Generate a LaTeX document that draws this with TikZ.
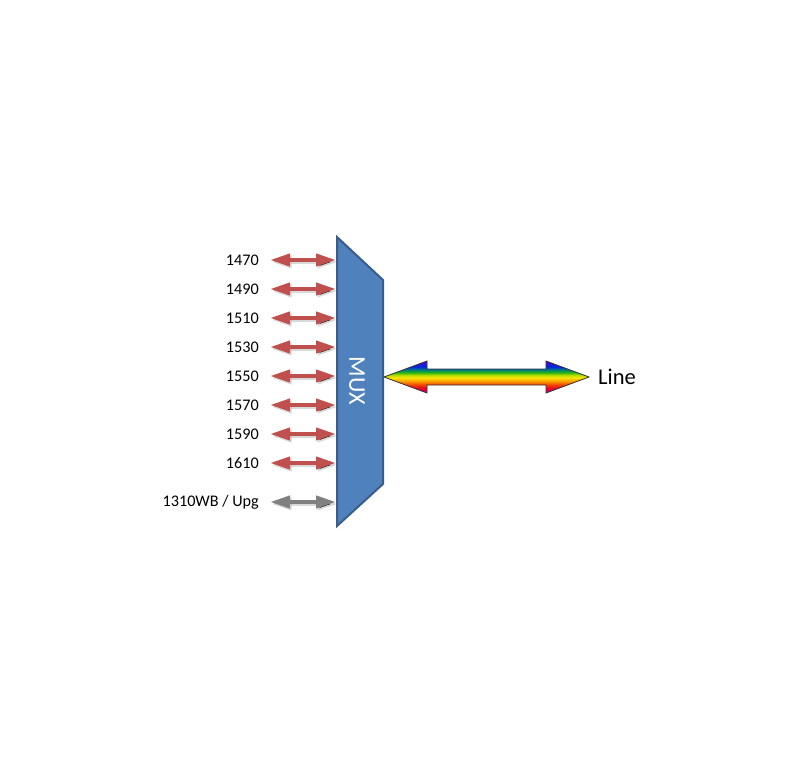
\documentclass[tikz,border=0pt]{standalone}
\usepackage{fontspec}
\setmainfont{Carlito}
\usetikzlibrary{arrows.meta,calc}
\definecolor{arrowred}{HTML}{C0504D}
\definecolor{arrowgrey}{HTML}{808080}
\definecolor{muxfill}{HTML}{4F81BD}
\definecolor{muxline}{HTML}{385D8A}
\definecolor{rbA}{RGB}{190,0,150}
\definecolor{rbB}{RGB}{230,0,40}
\definecolor{rbC}{RGB}{240,70,0}
\definecolor{rbD}{RGB}{250,150,0}
\definecolor{rbE}{RGB}{250,230,0}
\definecolor{rbF}{RGB}{180,220,0}
\definecolor{rbG}{RGB}{40,180,20}
\definecolor{rbH}{RGB}{0,130,120}
\definecolor{rbI}{RGB}{0,40,220}
\definecolor{rbJ}{RGB}{90,0,210}
\pgfdeclareverticalshading{rainbow}{100bp}{%
  color(0bp)=(rbA); color(25bp)=(rbA); color(32bp)=(rbB); color(38bp)=(rbC);
  color(43bp)=(rbD); color(49bp)=(rbE); color(53bp)=(rbF); color(57bp)=(rbG);
  color(61bp)=(rbH); color(66bp)=(rbI); color(75bp)=(rbJ); color(100bp)=(rbJ)}
\tikzset{
  lbl/.style={anchor=east, inner sep=0pt, font=\fontsize{16.2}{19}\selectfont},
  chan/.style={line width=4pt, draw=#1,
    {Triangle[length=20pt,width=12pt]}-{Triangle[length=20pt,width=12pt]},
    preaction={draw=black, draw opacity=0.15, line width=4pt,
      transform canvas={shift={(1.5pt,-2pt)}}}},
  muxbox/.style={fill=muxfill, draw=muxline, line width=2pt, line join=miter},
  muxtext/.style={text=white, rotate=-90, inner sep=0pt, font=\fontsize{24}{28}\selectfont},
  linetext/.style={anchor=west, inner sep=0pt, font=\fontsize{22.5}{26}\selectfont},
  rainbowarrow/.style={shading=rainbow, draw=black!80, line width=0.8pt, line join=miter}
}
\begin{document}
\begin{tikzpicture}[x=1pt,y=-1pt]
\useasboundingbox (0,0) rectangle (806,768);
% MUX
\draw[muxbox] (337,237) -- (383,280) -- (383,484) -- (337,526) -- cycle;
\node[muxtext] (mux) at (357,381) {MUX};
% channel labels and arrows
\foreach \name/\y/\txt/\col in {a/260/{1470}/arrowred, b/289/{1490}/arrowred,
    c/318/{1510}/arrowred, d/347/{1530}/arrowred, e/376/{1550}/arrowred,
    f/405/{1570}/arrowred, g/434/{1590}/arrowred, h/463/{1610}/arrowred,
    i/502/{1310WB / Upg}/arrowgrey}{
  \node[lbl] (l\name) at (259,\y) {\txt};
  \coordinate (s\name) at (270,\y);
  \coordinate (m\name) at (336,\y);
  \draw[chan=\col] (s\name) -- (m\name);
}
% line arrow
\coordinate (tipL) at (384,377);
\coordinate (tipR) at (589,377);
\shade[rainbowarrow] (tipL) -- ++(43,-16) -- ++(0,8) -- ($(tipR)+(-43,-8)$) -- ++(0,-8)
  -- (tipR) -- ++(-43,16) -- ++(0,-8) -- ($(tipL)+(43,8)$) -- ++(0,8) -- cycle;
\node[linetext] (line) at (598,377) {Line};
\end{tikzpicture}
\end{document}
